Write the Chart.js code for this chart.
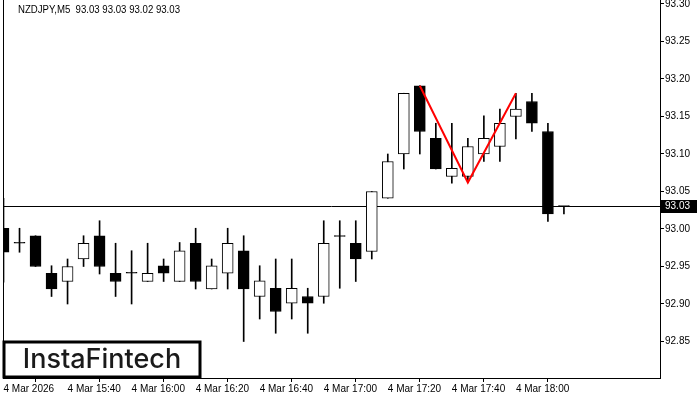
<!DOCTYPE html>
<html>
<head>
<meta charset="utf-8">
<script src="https://cdn.jsdelivr.net/npm/chart.js@4.4.1/dist/chart.umd.min.js"></script>
<style>
  html, body { margin: 0; padding: 0; background: #fff; }
  canvas { display: block; }
</style>
</head>
<body>
<canvas id="myChart" width="700" height="400"></canvas>
<script>
const symbol = 'NZDJPY,M5';
const times = ['15:20','15:25','15:30','15:35','15:40','15:45','15:50','15:55',
               '16:00','16:05','16:10','16:15','16:20','16:25','16:30','16:35',
               '16:40','16:45','16:50','16:55','17:00','17:05','17:10','17:15',
               '17:20','17:25','17:30','17:35','17:40','17:45','17:50','17:55',
               '18:00','18:05','18:10','18:15'];
const opens  = [93.001,92.981,92.991,92.941,92.930,92.960,92.991,92.941,
                92.941,92.930,92.951,92.930,92.981,92.920,92.941,92.971,
                92.910,92.921,92.901,92.910,92.910,92.990,92.981,92.970,
                93.041,93.100,93.191,93.121,93.070,93.070,93.100,93.110,
                93.150,93.170,93.130,93.030];
const highs  = [93.041,93.001,92.991,92.951,92.960,92.991,93.011,92.981,
                92.971,92.981,92.960,92.982,93.001,92.960,93.001,92.991,
                92.951,92.960,92.960,92.921,93.011,93.011,93.011,93.050,
                93.100,93.181,93.191,93.141,93.141,93.121,93.151,93.160,
                93.181,93.181,93.141,93.030];
const lows   = [92.929,92.969,92.950,92.910,92.900,92.950,92.940,92.910,
                92.900,92.930,92.930,92.930,92.920,92.920,92.920,92.850,
                92.880,92.861,92.880,92.861,92.901,92.921,92.930,92.960,
                93.041,93.080,93.100,93.080,93.061,93.062,93.090,93.090,
                93.120,93.130,93.010,93.020];
const closes = [92.969,92.981,92.950,92.920,92.950,92.981,92.950,92.930,
                92.941,92.941,92.941,92.971,92.930,92.951,92.981,92.920,
                92.931,92.890,92.921,92.901,92.981,92.990,92.960,93.050,
                93.090,93.181,93.130,93.080,93.081,93.110,93.121,93.141,
                93.160,93.141,93.020,93.030];

const tickTimes  = ['15:20','15:40','16:00','16:20','16:40','17:00','17:20','17:40','18:00'];
const tickLabels = ['4 Mar 2026','4 Mar 15:40','4 Mar 16:00','4 Mar 16:20','4 Mar 16:40',
                    '4 Mar 17:00','4 Mar 17:20','4 Mar 17:40','4 Mar 18:00'];
const priceTicks = [92.85, 92.90, 92.95, 93.00, 93.05, 93.10, 93.15, 93.20, 93.25, 93.30];

// double top pattern
const patternTimes  = ['17:30','17:45','18:00'];
const patternPrices = [93.191, 93.062, 93.181];

const idx = t => times.indexOf(t);
const last = times.length - 1;
const fmt = v => v.toFixed(2);

const wicks = times.map((t, i) => ({ x: i, y: [lows[i], highs[i]] }));
const bodies = times.map((t, i) => ({ x: i, y: [opens[i], closes[i]] }));
const bodyColors = times.map((t, i) => closes[i] > opens[i] ? '#ffffff' : '#000000');
const pattern = patternTimes.map((t, i) => ({ x: idx(t), y: patternPrices[i] }));

const font = { family: "'Liberation Sans', Arial, sans-serif", size: 10 };

const decor = {
  id: 'decor',
  beforeDatasetsDraw(chart) {
    const { ctx, chartArea, scales } = chart;
    const y = Math.round(scales.y.getPixelForValue(closes[last])) + 0.5;
    ctx.save();
    ctx.strokeStyle = '#000';
    ctx.lineWidth = 1;
    ctx.beginPath();
    ctx.moveTo(chartArea.left, y);
    ctx.lineTo(chartArea.right, y);
    ctx.stroke();
    // left frame
    ctx.beginPath();
    ctx.moveTo(chartArea.left + 0.5, chartArea.top);
    ctx.lineTo(chartArea.left + 0.5, chartArea.bottom);
    ctx.stroke();
    ctx.restore();
  },
  afterDraw(chart) {
    const { ctx, chartArea, scales } = chart;
    ctx.save();
    // header
    ctx.fillStyle = '#000';
    ctx.font = "10px 'Liberation Sans', Arial, sans-serif";
    ctx.textBaseline = 'middle';
    ctx.textAlign = 'left';
    const hdr = symbol + '  ' + [opens[last], highs[last], lows[last], closes[last]].map(fmt).join(' ');
    ctx.fillText(hdr, 18, 10, 162);

    // last price tag
    const y = Math.round(scales.y.getPixelForValue(closes[last]));
    ctx.fillStyle = '#000';
    ctx.fillRect(chartArea.right + 1, y - 6, 36, 13);
    ctx.fillStyle = '#fff';
    ctx.fillText(fmt(closes[last]), chartArea.right + 5, y + 0.5);

    // logo
    ctx.fillStyle = '#fff';
    ctx.fillRect(chartArea.left, 341, 198, 37);
    ctx.strokeStyle = '#000';
    ctx.lineWidth = 3;
    ctx.strokeRect(chartArea.left + 1, 342, 196, 35);
    ctx.fillStyle = '#1a1a1a';
    ctx.font = "500 27px Inter, 'Open Sans', sans-serif";
    ctx.textAlign = 'center';
    ctx.fillText('InstaFintech', chartArea.left + 99, 360, 160);
    ctx.restore();
  }
};

const rdx = document.getElementById('myChart').getContext('2d');
const myChart = new Chart(rdx, {
  type: 'bar',
  data: {
    datasets: [
      {
        type: 'line',
        label: 'Pattern',
        data: pattern,
        borderColor: '#ff0000',
        borderWidth: 2,
        pointRadius: 0,
        tension: 0,
        order: 0
      },
      {
        label: 'Body',
        data: bodies,
        backgroundColor: bodyColors,
        borderColor: '#000000',
        borderWidth: 1,
        borderSkipped: false,
        barThickness: 11,
        minBarLength: 1,
        grouped: false,
        order: 1
      },
      {
        label: 'Wick',
        data: wicks,
        backgroundColor: '#000000',
        borderWidth: 0,
        barThickness: 1,
        grouped: false,
        order: 2
      }
    ]
  },
  options: {
    responsive: false,
    animation: false,
    layout: { padding: { left: 3, top: 0, right: 0, bottom: 0 } },
    plugins: {
      legend: { display: false },
      tooltip: { enabled: false }
    },
    scales: {
      x: {
        type: 'linear',
        offset: false,
        min: -0.03125,
        max: 41,
        afterFit(scale) {
          scale.height = 22;
          scale.paddingLeft = 0;
          scale.paddingRight = 0;
        },
        afterBuildTicks(scale) {
          scale.ticks = tickTimes.map(t => ({ value: idx(t) }));
        },
        grid: { drawOnChartArea: false, color: '#000', tickLength: 4 },
        border: { display: true, color: '#000' },
        ticks: {
          autoSkip: false,
          maxRotation: 0,
          align: 'start',
          padding: 1,
          color: '#000',
          font: font,
          callback: v => tickLabels[tickTimes.indexOf(times[v])]
        }
      },
      y: {
        position: 'right',
        min: 92.80133,
        max: 93.30533,
        afterFit(scale) {
          scale.width = 40;
          scale.paddingTop = 0;
          scale.paddingBottom = 0;
        },
        afterBuildTicks(scale) {
          scale.ticks = priceTicks.map(v => ({ value: v }));
        },
        grid: { drawOnChartArea: false, color: '#000', tickLength: 4 },
        border: { display: true, color: '#000' },
        ticks: {
          padding: 1,
          color: '#000',
          font: font,
          callback: v => fmt(v)
        }
      }
    }
  },
  plugins: [decor]
});
</script>
</body>
</html>
